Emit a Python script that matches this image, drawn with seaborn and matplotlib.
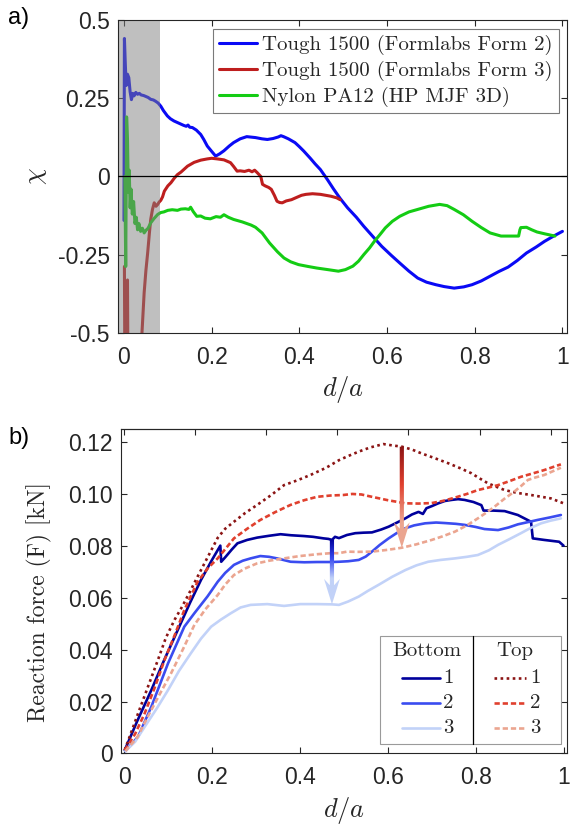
import numpy as np
import matplotlib
matplotlib.use("Agg")
import matplotlib.pyplot as plt
import seaborn as sns
from matplotlib.patches import FancyArrow, Rectangle
from matplotlib.lines import Line2D
from matplotlib.colors import LinearSegmentedColormap

# ---------------- panel a: chirality parameter chi vs d/a ----------------
series_a_labels = ["Tough 1500 (Formlabs Form 2)",
                   "Tough 1500 (Formlabs Form 3)",
                   "Nylon PA12 (HP MJF 3D)"]

form2_x = [0.0, 0.001, 0.003, 0.005, 0.008, 0.011, 0.014, 0.017, 0.020, 0.023,
           0.027, 0.031, 0.035, 0.039, 0.045, 0.05, 0.055, 0.061, 0.067, 0.072,
           0.078, 0.084, 0.09, 0.099, 0.106, 0.114, 0.125, 0.136, 0.142, 0.146,
           0.15, 0.156, 0.165, 0.175, 0.182, 0.19, 0.2, 0.209, 0.218, 0.228,
           0.24, 0.25, 0.265, 0.28, 0.3, 0.315, 0.327, 0.34, 0.352, 0.358,
           0.364, 0.375, 0.39, 0.40, 0.41, 0.425, 0.436, 0.448, 0.464, 0.478,
           0.493, 0.51, 0.53, 0.547, 0.568, 0.588, 0.61, 0.629, 0.65, 0.67,
           0.69, 0.711, 0.73, 0.753, 0.775, 0.794, 0.815, 0.835, 0.855, 0.876,
           0.897, 0.918, 0.94, 0.959, 0.98, 1.0]
form2_y = [-0.14, 0.44, 0.36, 0.29, 0.326, 0.315, 0.27, 0.245, 0.265, 0.257,
           0.268, 0.262, 0.265, 0.26, 0.258, 0.255, 0.252, 0.246, 0.244, 0.24,
           0.234, 0.224, 0.21, 0.193, 0.184, 0.177, 0.17, 0.163, 0.16, 0.164,
           0.157, 0.156, 0.148, 0.134, 0.118, 0.097, 0.08, 0.065, 0.072, 0.082,
           0.097, 0.108, 0.12, 0.127, 0.124, 0.12, 0.118, 0.121, 0.126, 0.13,
           0.127, 0.12, 0.108, 0.095, 0.081, 0.058, 0.04, 0.022, -0.01, -0.04,
           -0.07, -0.1, -0.13, -0.159, -0.192, -0.223, -0.252, -0.276, -0.302, -0.324,
           -0.337, -0.345, -0.351, -0.356, -0.352, -0.345, -0.333, -0.318, -0.303, -0.289,
           -0.268, -0.244, -0.225, -0.207, -0.19, -0.175]

form3_x = [0.001, 0.002, 0.007, 0.008, 0.009, 0.036, 0.041, 0.046, 0.05, 0.054,
           0.058, 0.061, 0.065, 0.069, 0.073, 0.077, 0.08, 0.084, 0.088, 0.092,
           0.1, 0.107, 0.115, 0.122, 0.13, 0.145, 0.16, 0.175, 0.19, 0.2,
           0.213, 0.228, 0.243, 0.25, 0.258, 0.265, 0.275, 0.285, 0.292, 0.298,
           0.304, 0.312, 0.316, 0.322, 0.33, 0.336, 0.343, 0.349, 0.355, 0.361,
           0.37, 0.382, 0.395, 0.405, 0.415, 0.43, 0.448, 0.46, 0.472, 0.485,
           0.493]
form3_y = [-0.287, -0.6, -0.6, -0.33, -0.6, -0.6, -0.5, -0.371, -0.30, -0.244,
           -0.18, -0.137, -0.105, -0.084, -0.095, -0.089, -0.082, -0.076, -0.065, -0.047,
           -0.03, -0.02, -0.005, 0.006, 0.014, 0.033, 0.045, 0.052, 0.056, 0.058,
           0.056, 0.053, 0.044, 0.032, 0.017, 0.018, 0.016, 0.02, 0.015, 0.02,
           0.012, 0.0, -0.025, -0.03, -0.035, -0.041, -0.06, -0.079, -0.083, -0.084,
           -0.078, -0.074, -0.066, -0.06, -0.057, -0.055, -0.057, -0.06, -0.063, -0.068,
           -0.074]

nylon_x = [0.002, 0.004, 0.006, 0.008, 0.010, 0.012, 0.014, 0.016, 0.019, 0.022,
           0.025, 0.028, 0.031, 0.034, 0.038, 0.042, 0.046, 0.05, 0.055, 0.061,
           0.068, 0.077, 0.084, 0.091, 0.10, 0.11, 0.122, 0.13, 0.14, 0.148,
           0.152, 0.158, 0.166, 0.175, 0.185, 0.197, 0.21, 0.22, 0.228, 0.238,
           0.25, 0.27, 0.29, 0.30, 0.315, 0.332, 0.35, 0.365, 0.38, 0.398,
           0.42, 0.44, 0.465, 0.489, 0.505, 0.522, 0.535, 0.547, 0.56, 0.571,
           0.584, 0.596, 0.612, 0.629, 0.65, 0.67, 0.695, 0.72, 0.737, 0.753,
           0.774, 0.794, 0.815, 0.835, 0.86, 0.88, 0.9, 0.903, 0.905, 0.918,
           0.93, 0.942, 0.96, 0.983]
nylon_y = [0.0, -0.287, 0.19, 0.12, -0.05, 0.02, -0.10, -0.04, -0.12, -0.08,
           -0.15, -0.13, -0.17, -0.15, -0.175, -0.165, -0.18, -0.172, -0.165, -0.148,
           -0.135, -0.121, -0.115, -0.113, -0.108, -0.106, -0.108, -0.104, -0.103, -0.105,
           -0.098, -0.112, -0.127, -0.126, -0.133, -0.135, -0.128, -0.13, -0.122, -0.13,
           -0.137, -0.145, -0.155, -0.162, -0.18, -0.212, -0.24, -0.26, -0.272, -0.281,
           -0.287, -0.292, -0.297, -0.302, -0.297, -0.286, -0.27, -0.249, -0.228, -0.207,
           -0.185, -0.164, -0.143, -0.127, -0.113, -0.105, -0.095, -0.089, -0.093, -0.105,
           -0.122, -0.143, -0.163, -0.18, -0.19, -0.19, -0.19, -0.17, -0.163, -0.162,
           -0.17, -0.177, -0.183, -0.19]

chi_ticks = [-0.5, -0.25, 0, 0.25, 0.5]
chi_ticklabels = ["-0.5", "-0.25", "0", "0.25", "0.5"]
da_ticks = [0, 0.2, 0.4, 0.6, 0.8, 1]
da_ticklabels = ["0", "0.2", "0.4", "0.6", "0.8", "1"]
transient_end = 0.082   # end of the shaded start-up region

# ---------------- panel b: reaction force vs d/a ----------------
bottom1_x = [0.0015, 0.03, 0.062, 0.09, 0.122, 0.15, 0.175, 0.2, 0.219, 0.221,
             0.23, 0.245, 0.258, 0.28, 0.303, 0.33, 0.356, 0.38, 0.409, 0.43,
             0.454, 0.465, 0.473, 0.48, 0.489, 0.507, 0.526, 0.545, 0.564, 0.585,
             0.602, 0.62, 0.64, 0.655, 0.67, 0.68, 0.688, 0.7, 0.715, 0.73,
             0.745, 0.76, 0.775, 0.795, 0.813, 0.818, 0.84, 0.866, 0.896, 0.926,
             0.93, 0.956, 0.99, 1.0]
bottom1_y = [0.0013, 0.0125, 0.0244, 0.0355, 0.0475, 0.058, 0.0668, 0.0745, 0.0800, 0.0738,
             0.0755, 0.0785, 0.0809, 0.0822, 0.0831, 0.0838, 0.0844, 0.0840, 0.0837, 0.0834,
             0.0828, 0.0826, 0.0822, 0.0834, 0.0829, 0.0841, 0.0848, 0.0850, 0.0851, 0.0862,
             0.0873, 0.0888, 0.0905, 0.0920, 0.0930, 0.0922, 0.0944, 0.0952, 0.0963, 0.0972,
             0.0976, 0.0979, 0.0976, 0.0968, 0.0956, 0.0935, 0.0935, 0.0933, 0.0918, 0.0892,
             0.0828, 0.0822, 0.0815, 0.0800]

bottom2_x = [0.003, 0.032, 0.062, 0.1, 0.137, 0.16, 0.19, 0.213, 0.23, 0.25,
             0.27, 0.288, 0.31, 0.33, 0.348, 0.379, 0.41, 0.439, 0.47, 0.489,
             0.51, 0.534, 0.55, 0.564, 0.582, 0.602, 0.62, 0.64, 0.66, 0.685,
             0.71, 0.73, 0.755, 0.775, 0.8, 0.82, 0.851, 0.875, 0.896, 0.92,
             0.941, 0.97, 0.994]
bottom2_y = [0.0009, 0.0065, 0.018, 0.0347, 0.0488, 0.054, 0.0605, 0.0661, 0.0695, 0.0726,
             0.0742, 0.0751, 0.0760, 0.0757, 0.0751, 0.0738, 0.0736, 0.0737, 0.0737, 0.0738,
             0.0740, 0.0745, 0.0758, 0.0777, 0.0803, 0.0828, 0.0848, 0.0867, 0.0878, 0.0886,
             0.0889, 0.0887, 0.0884, 0.0880, 0.0872, 0.0864, 0.0860, 0.0870, 0.0882, 0.0891,
             0.0899, 0.0909, 0.0918]

bottom3_x = [0.003, 0.025, 0.047, 0.075, 0.1, 0.125, 0.152, 0.175, 0.198, 0.22,
             0.243, 0.265, 0.288, 0.326, 0.364, 0.401, 0.439, 0.473, 0.489, 0.51,
             0.534, 0.555, 0.579, 0.61, 0.64, 0.665, 0.692, 0.72, 0.753, 0.78,
             0.805, 0.83, 0.851, 0.878, 0.903, 0.925, 0.949, 0.97, 0.994]
bottom3_y = [0.0009, 0.0045, 0.0103, 0.0175, 0.0244, 0.0318, 0.0386, 0.0442, 0.0488, 0.0515,
             0.0540, 0.0562, 0.0572, 0.0575, 0.0568, 0.0575, 0.0575, 0.0574, 0.0572, 0.0585,
             0.0604, 0.0626, 0.0649, 0.0680, 0.0706, 0.0724, 0.0738, 0.0745, 0.0751, 0.0757,
             0.0764, 0.0782, 0.0803, 0.0826, 0.0848, 0.0868, 0.0886, 0.0896, 0.0905]

top1_x = [0.0015, 0.032, 0.055, 0.077, 0.095, 0.115, 0.132, 0.149, 0.167, 0.19,
          0.213, 0.23, 0.25, 0.275, 0.303, 0.335, 0.364, 0.395, 0.424, 0.46,
          0.489, 0.51, 0.534, 0.56, 0.59, 0.61, 0.632, 0.655, 0.677, 0.705,
          0.738, 0.765, 0.79, 0.81, 0.828, 0.845, 0.866, 0.895, 0.926, 0.95,
          0.971, 1.0]
top1_y = [0.0013, 0.0155, 0.026, 0.036, 0.0445, 0.0515, 0.0565, 0.062, 0.068, 0.0755,
          0.083, 0.0865, 0.0892, 0.0925, 0.0957, 0.0995, 0.1033, 0.1052, 0.1072, 0.1100,
          0.1129, 0.1145, 0.1162, 0.1178, 0.1191, 0.1186, 0.1181, 0.1170, 0.1155, 0.1138,
          0.1117, 0.1098, 0.1079, 0.1058, 0.1040, 0.1028, 0.1014, 0.1003, 0.0995, 0.0988,
          0.0982, 0.0963]

top2_x = [0.0015, 0.025, 0.047, 0.07, 0.092, 0.115, 0.137, 0.167, 0.19, 0.213,
          0.25, 0.28, 0.31, 0.345, 0.379, 0.41, 0.439, 0.47, 0.499, 0.519,
          0.54, 0.564, 0.6, 0.64, 0.67, 0.7, 0.725, 0.753, 0.78, 0.805,
          0.83, 0.851, 0.878, 0.903, 0.93, 0.956, 0.975, 0.994]
top2_y = [0.0013, 0.0075, 0.0155, 0.0255, 0.036, 0.0455, 0.0552, 0.0660, 0.0712, 0.0751,
          0.0828, 0.0865, 0.0899, 0.0930, 0.0957, 0.0975, 0.0988, 0.0993, 0.0995, 0.0999,
          0.0997, 0.0988, 0.0975, 0.0963, 0.0962, 0.0964, 0.0972, 0.0985, 0.0999, 0.1014,
          0.1024, 0.1033, 0.1049, 0.1065, 0.1078, 0.1091, 0.1102, 0.1113]

top3_x = [0.003, 0.03, 0.054, 0.08, 0.107, 0.135, 0.16, 0.185, 0.213, 0.23,
          0.25, 0.275, 0.303, 0.33, 0.364, 0.4, 0.439, 0.47, 0.489, 0.507,
          0.53, 0.564, 0.6, 0.632, 0.665, 0.7, 0.725, 0.753, 0.78, 0.805,
          0.825, 0.843, 0.865, 0.888, 0.905, 0.919, 0.935, 0.956, 0.975, 0.994]
top3_y = [0.0009, 0.0062, 0.0142, 0.0225, 0.0309, 0.0405, 0.0495, 0.0555, 0.061, 0.065,
          0.0687, 0.0712, 0.0732, 0.0742, 0.0751, 0.076, 0.0767, 0.0771, 0.0771, 0.0777,
          0.0776, 0.0777, 0.0784, 0.0792, 0.0805, 0.0822, 0.0836, 0.0854, 0.0878, 0.0905,
          0.0928, 0.095, 0.098, 0.1008, 0.1032, 0.1053, 0.1062, 0.1072, 0.1086, 0.11]

force_ticks = [0, 0.02, 0.04, 0.06, 0.08, 0.10, 0.12]
force_ticklabels = ["0", "0.02", "0.04", "0.06", "0.08", "0.10", "0.12"]
legend_rows = ["1", "2", "3"]
arrow_bottom_x = 0.473   # softening drop, bottom-printed specimens
arrow_top_x = 0.632      # softening drop, top-printed specimens

# ---------------- styling ----------------
sns.set_style("ticks")
plt.rcParams.update({
    "font.family": ["Liberation Sans", "DejaVu Sans"],
    "mathtext.fontset": "cm",
    "axes.unicode_minus": False,
    "axes.edgecolor": "#262626",
    "axes.linewidth": 0.8,
    "xtick.color": "#262626",
    "ytick.color": "#262626",
    "xtick.labelcolor": "#262626",
    "ytick.labelcolor": "#262626",
})

TICK_FS = 16.5
SERIF = "cmr10"

blue, red, green = "#0a0af5", "#be1e1e", "#14cc14"
b_cols = ["#00009c", "#3a4cf0", "#c2d2f8"]
t_cols = ["#8b1414", "#e0402e", "#eba590"]
dot_style = (0, (1.0, 1.3))
dash_style = (0, (2.0, 1.1))

fig = plt.figure(figsize=(5.7, 8.26), dpi=100)
ax1 = fig.add_axes([0.2075, 0.5965, 0.7877, 0.3797])
ax2 = fig.add_axes([0.2123, 0.0878, 0.7833, 0.3925])


def style_axes(ax):
    for s in ax.spines.values():
        s.set_visible(True)
        s.set_color("#262626")
        s.set_linewidth(0.8)
    ax.tick_params(direction="in", length=4.5, width=0.8, labelsize=TICK_FS,
                   pad=6, right=True)
    ax.tick_params(axis="x", pad=9)


# ---- panel a ----
for xs, ys, c, lab in [(form2_x, form2_y, blue, series_a_labels[0]),
                       (form3_x, form3_y, red, series_a_labels[1]),
                       (nylon_x, nylon_y, green, series_a_labels[2])]:
    sns.lineplot(x=xs, y=ys, ax=ax1, color=c, linewidth=2.2, estimator=None,
                 sort=False, label=lab, zorder=2)

ax1.axvspan(-0.05, transient_end, color="0.5", alpha=0.5, lw=0, zorder=2.5)
ax1.axhline(0, color="black", lw=0.9, zorder=3)
ax1.set_xlim(-0.013, 1.011)
ax1.set_ylim(-0.5, 0.5)
ax1.set_xticks(da_ticks, da_ticklabels)
ax1.set_yticks(chi_ticks, chi_ticklabels)
style_axes(ax1)
ax1.tick_params(axis="x", top=True)
ax1.set_xlabel(r"$d/a$", fontsize=19, labelpad=4)
ax1.set_ylabel(r"$\chi$", fontsize=19)
ax1.yaxis.set_label_coords(-0.155, 0.5)

leg = ax1.legend(loc="upper right", bbox_to_anchor=(0.981, 0.971), borderaxespad=0,
                 prop={"family": SERIF, "size": 15}, frameon=True, fancybox=False,
                 framealpha=1, edgecolor="#7a7a7a", handlelength=1.8,
                 handletextpad=0.25, labelspacing=0.28, borderpad=0.3)
leg.get_frame().set_linewidth(0.8)
leg.set_zorder(5)

# ---- panel b ----
for xs, ys, c in zip([bottom1_x, bottom2_x, bottom3_x],
                     [bottom1_y, bottom2_y, bottom3_y], b_cols):
    sns.lineplot(x=xs, y=ys, ax=ax2, color=c, linewidth=1.9, estimator=None,
                 sort=False, zorder=2)
for xs, ys, c, ls in zip([top1_x, top2_x, top3_x], [top1_y, top2_y, top3_y],
                         t_cols, [dot_style, dash_style, dash_style]):
    sns.lineplot(x=xs, y=ys, ax=ax2, color=c, linewidth=1.9, estimator=None,
                 sort=False, linestyle=ls, zorder=2.2)


def gradient_arrow(ax, x, y0, y1, colors):
    """Vertical arrow from y0 down to y1 whose fill fades through colors."""
    head_len = 0.0098
    arrow = FancyArrow(x, y0, 0, y1 - y0, width=0.0095, head_width=0.036,
                       head_length=head_len, length_includes_head=True,
                       overhang=0.25, facecolor="none", edgecolor="none", zorder=4)
    ax.add_patch(arrow)
    ys = np.linspace(y1, y0, 400)
    t = np.clip((ys - (y1 + head_len)) / (y0 - y1 - head_len), 0, 1)
    cmap = LinearSegmentedColormap.from_list("fade", colors[::-1])
    im = ax.imshow(t.reshape(-1, 1), cmap=cmap, vmin=0, vmax=1,
                   extent=(x - 0.03, x + 0.03, y1, y0), origin="lower",
                   aspect="auto", interpolation="bilinear", zorder=4)
    im.set_clip_path(arrow)


gradient_arrow(ax2, arrow_bottom_x,
               float(np.interp(arrow_bottom_x, bottom1_x, bottom1_y)),
               float(np.interp(arrow_bottom_x, bottom3_x, bottom3_y)), b_cols)
gradient_arrow(ax2, arrow_top_x,
               float(np.interp(arrow_top_x, top1_x, top1_y)),
               float(np.interp(arrow_top_x, top3_x, top3_y)), t_cols)

ax2.set_xlim(-0.007, 1.009)
ax2.set_ylim(0, 0.1248)
ax2.set_xticks(da_ticks, da_ticklabels)
ax2.set_yticks(force_ticks, force_ticklabels)
style_axes(ax2)
ax2.tick_params(axis="x", top=False)
sec = ax2.secondary_xaxis("top")
sec.set_xticks([0, 0.1618, 0.3236, 0.4854, 0.6472, 0.809, 0.9708])
sec.tick_params(direction="in", length=4.5, width=0.8, labeltop=False, color="#262626")
sec.spines["top"].set_color("#262626")
sec.spines["top"].set_linewidth(0.8)
ax2.set_xlabel(r"$d/a$", fontsize=19, labelpad=4)
ax2.set_ylabel("Reaction force (F) [kN]", fontsize=17, family=SERIF)
ax2.yaxis.set_label_coords(-0.155, 0.467)

# two-column legend: Bottom | Top
T = ax2.transAxes
ax2.add_patch(Rectangle((0.580, 0.028), 0.405, 0.334, transform=T, facecolor="white",
                        edgecolor="#9a9a9a", lw=0.8, zorder=6))
ax2.add_line(Line2D([0.789, 0.789], [0.028, 0.362], transform=T, color="black",
                    lw=0.9, zorder=7))
ax2.text(0.685, 0.316, "Bottom", transform=T, ha="center", va="center",
         family=SERIF, fontsize=15, zorder=7)
ax2.text(0.882, 0.316, "Top", transform=T, ha="center", va="center",
         family=SERIF, fontsize=15, zorder=7)
row_y = [0.233, 0.156, 0.079]
for lab, ry, bc, tc, ls in zip(legend_rows, row_y, b_cols, t_cols,
                               [dot_style, dash_style, dash_style]):
    ax2.add_line(Line2D([0.629, 0.714], [ry, ry], transform=T, color=bc, lw=1.9, zorder=7))
    ax2.text(0.721, ry, lab, transform=T, ha="left", va="center", family=SERIF,
             fontsize=15, zorder=7)
    ax2.add_line(Line2D([0.836, 0.907], [ry, ry], transform=T, color=tc, lw=1.9,
                        linestyle=ls, zorder=7))
    ax2.text(0.917, ry, lab, transform=T, ha="left", va="center", family=SERIF,
             fontsize=15, zorder=7)

# panel tags
fig.text(8 / 570, 1 - 7 / 826, "a)", fontsize=17, va="top", ha="left", color="black")
fig.text(8 / 570, 1 - 427 / 826, "b)", fontsize=17, va="top", ha="left", color="black")

fig.savefig("out.png", dpi=100)
